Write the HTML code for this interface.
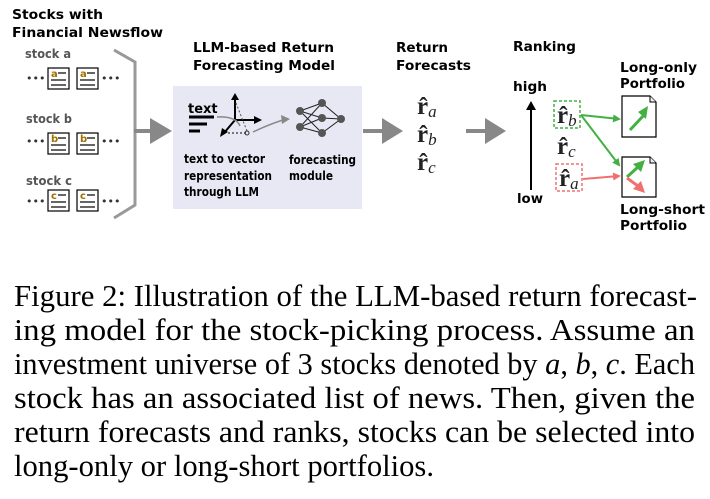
<!DOCTYPE html>
<html><head><meta charset="utf-8"><style>
html,body{margin:0;padding:0;background:#fff;}
svg{display:block;}
.b{font-family:"DejaVu Sans","Liberation Sans",sans-serif;font-weight:bold;font-size:13.5px;fill:#000;}
.s{font-family:"DejaVu Sans","Liberation Sans",sans-serif;font-weight:bold;font-size:12.5px;fill:#000;}
.g{font-family:"DejaVu Sans","Liberation Sans",sans-serif;font-weight:bold;font-size:12.5px;fill:#555;}
.m{font-family:"Liberation Serif",serif;font-size:25px;fill:#222;}
.cap{font-family:"Liberation Serif",serif;font-size:31px;fill:#000;}
</style></head><body>
<svg width="710" height="499" viewBox="0 0 710 499" xmlns="http://www.w3.org/2000/svg">
<defs>
<g id="doc"><rect x="0" y="0" width="21" height="21" fill="#fff" stroke="#000" stroke-width="1.2"/><line x1="10" y1="5" x2="18" y2="5" stroke="#000" stroke-width="1.2"/><line x1="3" y1="12" x2="18" y2="12" stroke="#000" stroke-width="1.2"/><line x1="3" y1="17" x2="18" y2="17" stroke="#000" stroke-width="1.2"/></g>
<marker id="ag" markerWidth="8" markerHeight="8" refX="6" refY="4" orient="auto" markerUnits="userSpaceOnUse"><path d="M0,0 L8,4 L0,8z" fill="#44b044"/></marker>
<marker id="ar" markerWidth="8" markerHeight="8" refX="6" refY="4" orient="auto" markerUnits="userSpaceOnUse"><path d="M0,0 L8,4 L0,8z" fill="#f07070"/></marker>
</defs>
<text class="b" x="12" y="19" textLength="91" lengthAdjust="spacingAndGlyphs">Stocks with</text>
<text class="b" x="12" y="37" textLength="151" lengthAdjust="spacingAndGlyphs">Financial Newsflow</text>
<text class="g" x="25" y="58" textLength="46" lengthAdjust="spacingAndGlyphs">stock a</text>
<text class="g" x="26" y="123" textLength="46" lengthAdjust="spacingAndGlyphs">stock b</text>
<text class="g" x="26" y="185" textLength="46" lengthAdjust="spacingAndGlyphs">stock c</text>
<g font-family="DejaVu Sans,sans-serif" font-size="11" fill="#333">
<text x="26" y="82">•••</text><text x="101" y="82">•••</text>
<text x="26" y="145">•••</text><text x="101" y="145">•••</text>
<text x="26" y="205">•••</text><text x="101" y="205">•••</text>
</g>
<use href="#doc" x="48" y="68"/><use href="#doc" x="77" y="68"/>
<use href="#doc" x="48" y="133"/><use href="#doc" x="77" y="133"/>
<use href="#doc" x="48" y="190"/><use href="#doc" x="77" y="190"/>
<g font-family="DejaVu Sans,sans-serif" font-weight="bold" font-size="10" fill="#a07000">
<text x="51" y="77">a</text><text x="80" y="77">a</text>
<text x="51" y="142">b</text><text x="80" y="142">b</text>
<text x="51" y="199">c</text><text x="80" y="199">c</text>
</g>
<polyline points="114,50 135,62 135,205 114,218" fill="none" stroke="#999" stroke-width="3"/>
<line x1="134" y1="131" x2="152" y2="131" stroke="#888" stroke-width="4"/>
<path d="M150,118 L172,131 L150,144z" fill="#888"/>
<text class="b" x="193" y="52" textLength="141" lengthAdjust="spacingAndGlyphs">LLM-based Return</text>
<text class="b" x="193" y="70" textLength="142" lengthAdjust="spacingAndGlyphs">Forecasting Model</text>
<rect x="173" y="86" width="189" height="123" fill="#e8e8f4"/>
<text x="188" y="113" font-family="DejaVu Sans,sans-serif" font-size="13" font-weight="bold" fill="#000">text</text>
<line x1="189" y1="117" x2="214" y2="117" stroke="#000" stroke-width="3"/>
<line x1="189" y1="124" x2="207" y2="124" stroke="#000" stroke-width="3"/>
<line x1="189" y1="131" x2="200" y2="131" stroke="#000" stroke-width="3"/>
<line x1="235" y1="120" x2="235" y2="98" stroke="#000" stroke-width="2"/><path d="M231,100 L235,93 L239,100z"/>
<line x1="235" y1="120" x2="256" y2="120" stroke="#000" stroke-width="2"/><path d="M254,116 L262,120 L254,124z"/>
<line x1="235" y1="120" x2="224" y2="133" stroke="#000" stroke-width="2"/><path d="M222,128 L220,137 L228,132z"/>
<line x1="228" y1="133" x2="246" y2="133" stroke="#000" stroke-dasharray="2,2"/>
<line x1="236" y1="103" x2="247" y2="131" stroke="#555" stroke-dasharray="2,2"/>
<circle cx="247" cy="133" r="2" fill="none" stroke="#333"/>
<path d="M217,117 Q236,116 240,126" fill="none" stroke="#888" stroke-width="1.5"/>
<path d="M253,132 Q270,124 283,120" fill="none" stroke="#888" stroke-width="1.5"/><path d="M281,115 L290,119 L282,124z" fill="#888"/>
<g stroke="#222" stroke-width="1">
<line x1="300" y1="111" x2="322" y2="103"/><line x1="300" y1="111" x2="322" y2="118"/><line x1="300" y1="111" x2="322" y2="133"/>
<line x1="300" y1="127" x2="322" y2="103"/><line x1="300" y1="127" x2="322" y2="118"/><line x1="300" y1="127" x2="322" y2="133"/>
<line x1="322" y1="103" x2="341" y2="119"/><line x1="322" y1="118" x2="341" y2="119"/><line x1="322" y1="133" x2="341" y2="119"/>
</g>
<g fill="#555"><circle cx="300" cy="111" r="4"/><circle cx="300" cy="127" r="4"/><circle cx="322" cy="103" r="4"/><circle cx="322" cy="118" r="4"/><circle cx="322" cy="133" r="4"/><circle cx="341" cy="119" r="4"/></g>
<text class="s" x="184" y="163" textLength="81" lengthAdjust="spacingAndGlyphs">text to vector</text>
<text class="s" x="184" y="180" textLength="88" lengthAdjust="spacingAndGlyphs">representation</text>
<text class="s" x="184" y="196" textLength="75" lengthAdjust="spacingAndGlyphs">through LLM</text>
<text class="s" x="289" y="164" textLength="67" lengthAdjust="spacingAndGlyphs">forecasting</text>
<text class="s" x="289" y="180" textLength="44" lengthAdjust="spacingAndGlyphs">module</text>
<line x1="363" y1="131" x2="384" y2="131" stroke="#888" stroke-width="4"/>
<path d="M382,118 L403,131 L382,144z" fill="#888"/>
<text class="b" x="396" y="52" textLength="52" lengthAdjust="spacingAndGlyphs">Return</text>
<text class="b" x="396" y="70" textLength="75" lengthAdjust="spacingAndGlyphs">Forecasts</text>
<text class="m" x="417" y="114" font-weight="bold">r̂<tspan font-style="italic" font-weight="normal" font-size="17" dy="3">a</tspan></text>
<text class="m" x="417" y="142" font-weight="bold">r̂<tspan font-style="italic" font-weight="normal" font-size="17" dy="3">b</tspan></text>
<text class="m" x="417" y="170" font-weight="bold">r̂<tspan font-style="italic" font-weight="normal" font-size="17" dy="3">c</tspan></text>
<line x1="466" y1="131" x2="487" y2="131" stroke="#888" stroke-width="4"/>
<path d="M485,118 L506,131 L485,144z" fill="#888"/>
<text class="b" x="513" y="51" textLength="63" lengthAdjust="spacingAndGlyphs">Ranking</text>
<text class="b" x="513" y="91" textLength="34" lengthAdjust="spacingAndGlyphs">high</text>
<text class="b" x="517" y="203" textLength="26" lengthAdjust="spacingAndGlyphs">low</text>
<line x1="531" y1="190" x2="531" y2="108" stroke="#000" stroke-width="2"/><path d="M526,110 L531,101 L536,110z"/>
<rect x="554" y="101" width="26" height="27" fill="none" stroke="#44b044" stroke-width="1.5" stroke-dasharray="3,2"/>
<rect x="556" y="164" width="26" height="27" fill="none" stroke="#f07070" stroke-width="1.5" stroke-dasharray="3,2"/>
<text class="m" x="557" y="123" font-weight="bold">r̂<tspan font-style="italic" font-weight="normal" font-size="17" dy="3">b</tspan></text>
<text class="m" x="557" y="154" font-weight="bold">r̂<tspan font-style="italic" font-weight="normal" font-size="17" dy="3">c</tspan></text>
<text class="m" x="559" y="186" font-weight="bold">r̂<tspan font-style="italic" font-weight="normal" font-size="17" dy="3">a</tspan></text>
<line x1="581" y1="115" x2="619" y2="119" stroke="#44b044" stroke-width="2" marker-end="url(#ag)"/>
<line x1="581" y1="115" x2="619" y2="165" stroke="#44b044" stroke-width="2" marker-end="url(#ag)"/>
<line x1="583" y1="179" x2="619" y2="176" stroke="#f07070" stroke-width="2" marker-end="url(#ar)"/>
<text class="b" x="620" y="72" textLength="77" lengthAdjust="spacingAndGlyphs">Long-only</text>
<text class="b" x="620" y="88" textLength="65" lengthAdjust="spacingAndGlyphs">Portfolio</text>
<path d="M622,96 L650,96 L656,102 L656,137 L622,137z" fill="#fff" stroke="#000" stroke-width="1.2"/>
<path d="M650,96 L650,102 L656,102" fill="#eee" stroke="#000" stroke-width="1"/>
<line x1="630" y1="130" x2="644" y2="115" stroke="#44b044" stroke-width="3"/><path d="M638,112 L648,106 L646,119z" fill="#44b044"/>
<path d="M622,157 L650,157 L656,163 L656,197 L622,197z" fill="#fff" stroke="#000" stroke-width="1.2"/>
<path d="M650,157 L650,163 L656,163" fill="#eee" stroke="#000" stroke-width="1"/>
<line x1="627" y1="177" x2="638" y2="167" stroke="#44b044" stroke-width="3"/><path d="M633,164 L645,160 L641,172z" fill="#44b044"/>
<line x1="627" y1="178" x2="638" y2="186" stroke="#f07070" stroke-width="3"/><path d="M633,189 L645,193 L641,181z" fill="#f07070"/>
<text class="b" x="620" y="214" textLength="85" lengthAdjust="spacingAndGlyphs">Long-short</text>
<text class="b" x="620" y="230" textLength="67" lengthAdjust="spacingAndGlyphs">Portfolio</text>
<text class="cap" x="14" y="306" textLength="683" lengthAdjust="spacingAndGlyphs">Figure 2: Illustration of the LLM-based return forecast-</text>
<text class="cap" x="14" y="340" textLength="681" lengthAdjust="spacingAndGlyphs">ing model for the stock-picking process.  Assume an</text>
<text class="cap" x="14" y="374" textLength="681" lengthAdjust="spacingAndGlyphs">investment universe of 3 stocks denoted by <tspan font-style="italic">a</tspan>, <tspan font-style="italic">b</tspan>, <tspan font-style="italic">c</tspan>. Each</text>
<text class="cap" x="14" y="408" textLength="681" lengthAdjust="spacingAndGlyphs">stock has an associated list of news.  Then, given the</text>
<text class="cap" x="14" y="442" textLength="681" lengthAdjust="spacingAndGlyphs">return forecasts and ranks, stocks can be selected into</text>
<text class="cap" x="14" y="476" textLength="420" lengthAdjust="spacingAndGlyphs">long-only or long-short portfolios.</text>
</svg>
</body></html>
